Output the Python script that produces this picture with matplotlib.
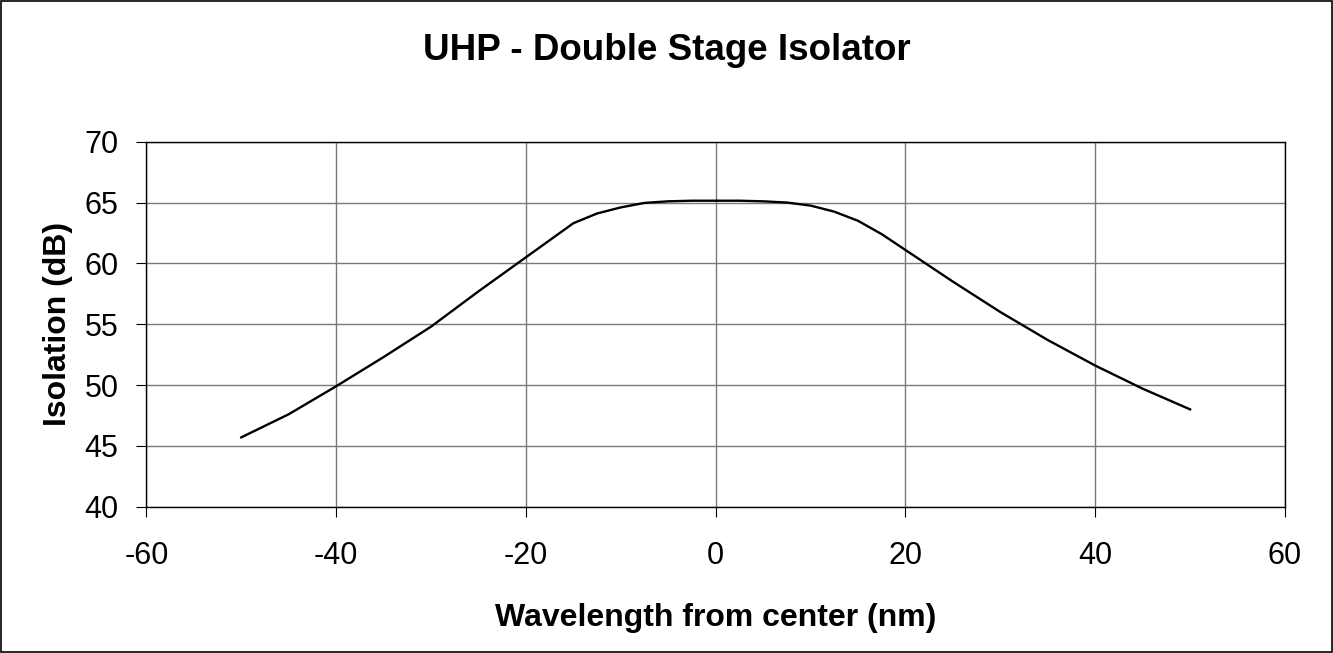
import matplotlib.pyplot as plt
from matplotlib.patches import Rectangle

plt.rcParams['font.family'] = ['Liberation Sans', 'DejaVu Sans']
plt.rcParams['axes.unicode_minus'] = False

# wavelength offset (nm) and isolation (dB)
wavelength = [-50, -45, -40, -35, -30, -25, -20, -17.5, -15, -12.5, -10, -7.5, -5, -2.5, 0,
              2.5, 5, 7.5, 10, 12.5, 15, 17.5, 20, 25, 30, 35, 40, 45, 50]
isolation = [45.7, 47.6, 49.9, 52.3, 54.8, 57.7, 60.5, 61.9, 63.3, 64.1, 64.6, 64.97, 65.1, 65.15, 65.15,
             65.15, 65.1, 65.0, 64.75, 64.25, 63.5, 62.4, 61.1, 58.5, 56.0, 53.7, 51.6, 49.7, 48.0]

x_ticks = [-60, -40, -20, 0, 20, 40, 60]
y_ticks = [40, 45, 50, 55, 60, 65, 70]

fig = plt.figure(figsize=(13.33, 6.53), dpi=100)
ax = fig.add_axes([0.1098, 0.224, 0.964 - 0.1098, 0.783 - 0.224])

ax.plot(wavelength, isolation, color='black', linewidth=1.7)

ax.set_xlim(-60, 60)
ax.set_ylim(40, 70)
ax.set_xticks(x_ticks)
ax.set_yticks(y_ticks)
ax.grid(True, color='#7a7a7a', linewidth=1.0)
ax.set_axisbelow(True)
for s in ax.spines.values():
    s.set_color('black')
    s.set_linewidth(1.0)
ax.tick_params(direction='out', length=7, width=0.8, labelsize=22)
ax.tick_params(axis='x', pad=18)
ax.tick_params(axis='y', pad=13)

ax.set_xlabel('Wavelength from center (nm)', fontsize=23, fontweight='bold', labelpad=23)
ax.set_ylabel('Isolation (dB)', fontsize=23, fontweight='bold', labelpad=8)
fig.text(0.5, 0.922, 'UHP - Double Stage Isolator', ha='center', va='center',
         fontsize=26.5, fontweight='bold')

# outer chart border
fig.patches.append(Rectangle((0.0008, 0.0015), 0.9984, 0.997, transform=fig.transFigure,
                             fill=False, edgecolor='black', linewidth=1.2))

fig.savefig('out.png', dpi=100)
